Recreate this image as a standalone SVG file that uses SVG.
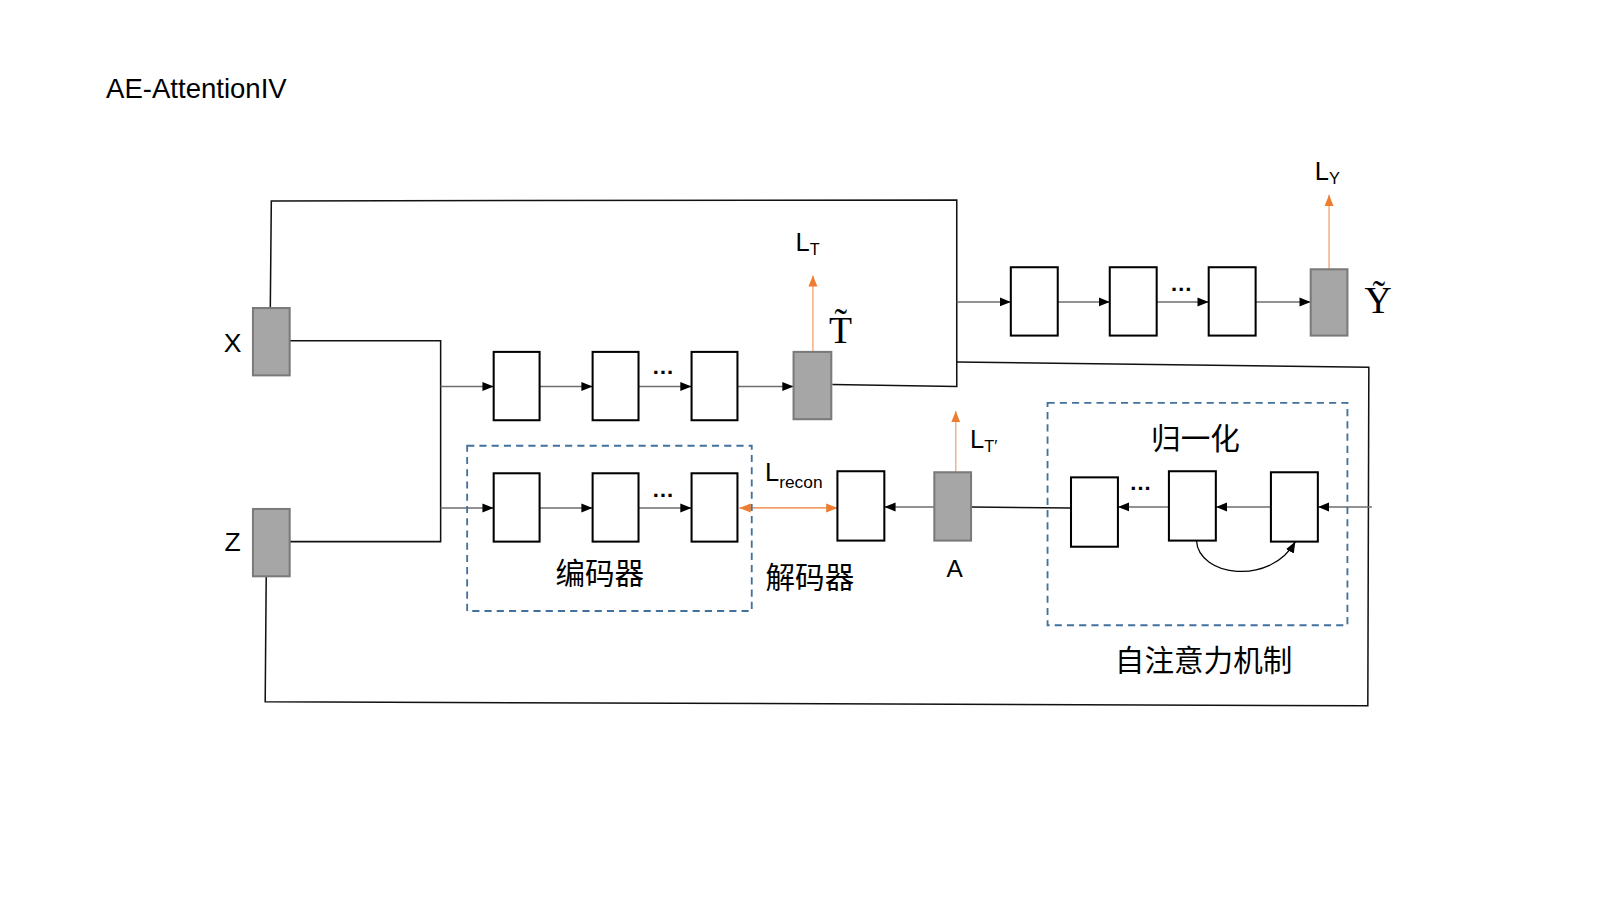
<svg xmlns="http://www.w3.org/2000/svg" width="1600" height="900" viewBox="0 0 1600 900">
<defs>
<style>
.t{font-family:"Liberation Sans","Noto Sans CJK SC",sans-serif;fill:#000}
.el{font-family:"Liberation Sans",sans-serif;font-size:22px;font-weight:bold;fill:#000}
.cj{font-family:"Noto Sans CJK SC","Liberation Sans",sans-serif;font-size:29px;fill:#000}
.sf{font-family:"Liberation Serif","DejaVu Serif",serif;fill:#000}
.box{fill:#fff;stroke:#000;stroke-width:2}
.g{fill:#a6a6a6;stroke:#7a7a7a;stroke-width:2}
.ln{fill:none;stroke:#111;stroke-width:1.5}
.ar{fill:none;stroke:#6e6e6e;stroke-width:1.5;marker-end:url(#ah)}
.or{fill:none;stroke:#f4b183;stroke-width:1.5;marker-end:url(#oh)}
.orl{fill:none;stroke:#ed7d31;stroke-width:1.2;marker-end:url(#oh);marker-start:url(#ohs)}
.dash{fill:none;stroke:#41719c;stroke-width:1.8;stroke-dasharray:7 5}
</style>
<marker id="ah" viewBox="0 0 10 10" refX="10" refY="5" markerWidth="11" markerHeight="11" markerUnits="userSpaceOnUse" orient="auto"><path d="M0,1 L10,5 L0,9 z" fill="#000"/></marker>
<marker id="oh" viewBox="0 0 10 10" refX="10" refY="5" markerWidth="11" markerHeight="11" markerUnits="userSpaceOnUse" orient="auto"><path d="M0,1 L10,5 L0,9 z" fill="#ed7d31"/></marker>
<marker id="ohs" viewBox="0 0 10 10" refX="0" refY="5" markerWidth="11" markerHeight="11" markerUnits="userSpaceOnUse" orient="auto"><path d="M10,1 L0,5 L10,9 z" fill="#ed7d31"/></marker>
</defs>
<rect width="1600" height="900" fill="#fff"/>
<g transform="scale(1.02)">
<text class="t" x="104" y="96" font-size="27">AE-AttentionIV</text>

<g id="connectors">
<polyline class="ln" points="265,302 266,197 938,196 938,379 816,377"/>
<polyline class="ln" points="938,355 1342,360 1341,692 260,688 261,565"/>
<polyline class="ln" points="284,334 432,334 432,531 284,531"/>
<line class="ar" x1="432" y1="379" x2="484" y2="379"/>
<line class="ar" x1="432" y1="498" x2="484" y2="498"/>
<line class="ar" x1="529" y1="379" x2="581" y2="379"/>
<line class="ar" x1="626" y1="379" x2="678" y2="379"/>
<line class="ar" x1="723" y1="379" x2="778" y2="379"/>
<line class="ar" x1="529" y1="498" x2="581" y2="498"/>
<line class="ar" x1="626" y1="498" x2="678" y2="498"/>
<line class="ar" x1="938" y1="296" x2="991" y2="296"/>
<line class="ar" x1="1037" y1="296" x2="1088" y2="296"/>
<line class="ar" x1="1134" y1="296" x2="1185" y2="296"/>
<line class="ar" x1="1231" y1="296" x2="1285" y2="296"/>
<line class="ar" x1="916" y1="497" x2="867" y2="497"/>
<line class="ln" x1="952" y1="497" x2="1050" y2="498"/>
<line class="ar" x1="1146" y1="497" x2="1096" y2="497"/>
<line class="ar" x1="1246" y1="497" x2="1192" y2="497"/>
<line class="ar" x1="1345" y1="497" x2="1292" y2="497"/>
<path d="M1173,530 C1175,565 1245,575 1270,531" fill="none" stroke="#000" stroke-width="1.2" marker-end="url(#ah)"/>
<line class="or" x1="797" y1="345" x2="797" y2="270"/>
<line class="or" x1="1303" y1="264" x2="1303" y2="191"/>
<line class="or" x1="937" y1="463" x2="937" y2="403"/>
<line class="orl" x1="725" y1="498" x2="821" y2="498"/>
</g>

<g id="node-X"><rect class="g" x="248" y="302" width="36" height="66"/><text class="t" x="228" y="345" font-size="26" text-anchor="middle">X</text></g>
<g id="node-Z"><rect class="g" x="248" y="499" width="36" height="66"/><text class="t" x="228" y="540" font-size="26" text-anchor="middle">Z</text></g>

<g id="top-row">
<rect class="box" x="484" y="345" width="45" height="67"/>
<rect class="box" x="581" y="345" width="45" height="67"/>
<rect class="box" x="678" y="345" width="45" height="67"/>
<text class="el" x="650" y="367" text-anchor="middle">…</text>
</g>
<g id="node-T">
<rect class="g" x="778" y="345" width="37" height="66"/>
<text class="sf" x="824" y="336" font-size="37" text-anchor="middle">T&#x303;</text>
<text class="t" x="780" y="246" font-size="25">L<tspan font-size="16" dy="4">T</tspan></text>
</g>

<g id="encoder">
<rect class="dash" x="458" y="437" width="279" height="162"/>
<rect class="box" x="484" y="464" width="45" height="67"/>
<rect class="box" x="581" y="464" width="45" height="67"/>
<rect class="box" x="678" y="464" width="45" height="67"/>
<text class="el" x="650" y="487" text-anchor="middle">…</text>
<text class="cj" x="588" y="573" text-anchor="middle">编码器</text>
</g>

<g id="decoder">
<rect class="box" x="821" y="462" width="46" height="68"/>
<text class="cj" x="794" y="576" text-anchor="middle">解码器</text>
<text class="t" x="750" y="472" font-size="25">L<tspan font-size="17" dy="6">recon</tspan></text>
</g>

<g id="node-A">
<rect class="g" x="916" y="463" width="36" height="67"/>
<text class="t" x="936" y="566" font-size="24" text-anchor="middle">A</text>
<text class="t" x="951" y="439" font-size="25">L<tspan font-size="16" dy="4">T′</tspan></text>
</g>

<g id="attention">
<rect class="dash" x="1027" y="395" width="294" height="218"/>
<rect class="box" x="1050" y="468" width="46" height="68"/>
<rect class="box" x="1146" y="462" width="46" height="68"/>
<rect class="box" x="1246" y="463" width="46" height="68"/>
<text class="el" x="1118" y="480" text-anchor="middle">…</text>
<text class="cj" x="1172" y="440" text-anchor="middle">归一化</text>
<text class="cj" x="1180" y="658" text-anchor="middle">自注意力机制</text>
</g>

<g id="output-row">
<rect class="box" x="991" y="262" width="46" height="67"/>
<rect class="box" x="1088" y="262" width="46" height="67"/>
<rect class="box" x="1185" y="262" width="46" height="67"/>
<text class="el" x="1158" y="285" text-anchor="middle">…</text>
</g>
<g id="node-Y">
<rect class="g" x="1285" y="264" width="36" height="65"/>
<text class="sf" x="1351" y="307" font-size="37" text-anchor="middle">Ỹ</text>
<text class="t" x="1289" y="176" font-size="25">L<tspan font-size="16" dy="4">Y</tspan></text>
</g>
</g>
</svg>
